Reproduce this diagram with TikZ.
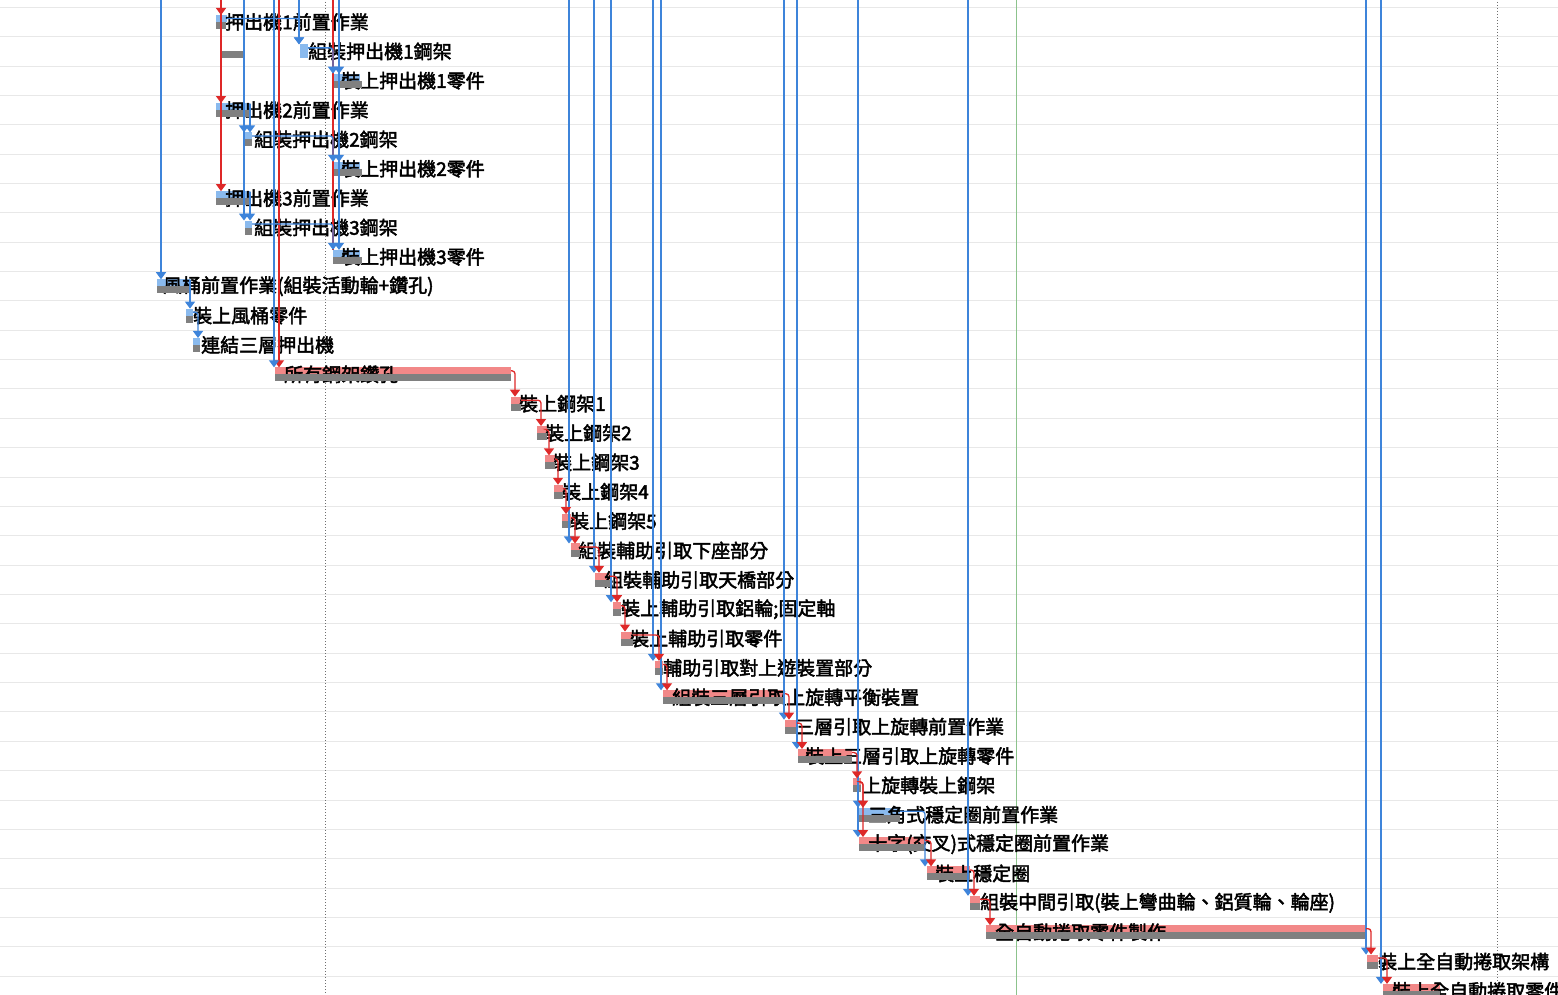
\documentclass[tikz,border=0pt]{standalone}
\usepackage{fontspec}
\newfontfamily\cjk{Noto Sans CJK TC}[FakeBold=2.4]
\usetikzlibrary{arrows.meta}
\definecolor{gridc}{RGB}{232,232,232}
\definecolor{critbar}{RGB}{242,136,136}
\definecolor{normbar}{RGB}{138,186,238}
\definecolor{basec}{RGB}{128,128,128}
\definecolor{linkred}{RGB}{222,40,40}
\definecolor{linkblue}{RGB}{62,132,218}
\definecolor{todayc}{RGB}{140,195,140}
\definecolor{dotc}{RGB}{110,110,110}
\begin{document}
\begin{tikzpicture}[x=1pt,y=-1pt,
  topbar/.style={draw=none,inner sep=0pt,outer sep=0pt,minimum height=7pt,anchor=south west},
  basebar/.style={fill=basec,draw=none,inner sep=0pt,outer sep=0pt,minimum height=7pt,anchor=north west},
  tasklabel/.style={anchor=west,inner sep=0pt,font=\cjk\fontsize{19}{19}\selectfont},
  tip/.style={-{Triangle[width=10pt,length=7pt]}},
  redlink/.style={draw=linkred,line width=1.3pt,tip,rounded corners=3pt},
  bluelink/.style={draw=linkblue,line width=1.3pt,tip,rounded corners=3pt},
  redline/.style={draw=linkred,line width=1.3pt},
  gridline/.style={draw=gridc,line width=1pt},
]
\fill[white] (0,0) rectangle (1558,995);
\useasboundingbox (0,0) rectangle (1558,995);
\clip (0,0) rectangle (1558,995);

% row separators
\foreach \k in {0,...,33} \draw[gridline] (0,7.3+29.36*\k) -- (1558,7.3+29.36*\k);

% status and date markers
\coordinate (top) at (0,-4);
\draw[dotc,dotted,line width=1pt] (325,-4) -- (325,1000);
\draw[dotc,dotted,line width=1pt] (1497,-4) -- (1497,1000);
\draw[todayc,line width=1pt] (1016,-4) -- (1016,1000);

% task bars: row / start / end / baseline start / baseline end / colour / label x / label
\foreach \r/\xs/\xe/\gs/\ge/\col/\tx/\txt in {
  0/216/227/216/226/normbar/225/{押出機1前置作業},
  1/300/308/222/244/normbar/308/{組裝押出機1鋼架},
  2/333/360/333/362/normbar/341/{裝上押出機1零件},
  3/216/250/216/250/normbar/225/{押出機2前置作業},
  4/245/252/245/252/normbar/254/{組裝押出機2鋼架},
  5/333/360/333/362/normbar/341/{裝上押出機2零件},
  6/216/250/216/250/normbar/225/{押出機3前置作業},
  7/245/252/245/252/normbar/254/{組裝押出機3鋼架},
  8/333/360/333/362/normbar/341/{裝上押出機3零件},
  9/157/190/157/190/normbar/163/{風桶前置作業(組裝活動輪+鑽孔)},
  10/186/193/186/193/normbar/193/{裝上風桶零件},
  11/193/200/193/200/normbar/201/{連結三層押出機},
  12/275/511/275/511/critbar/284/{所有鋼架鑽孔},
  13/511/521/511/521/critbar/519/{裝上鋼架1},
  14/537/547/537/547/critbar/545/{裝上鋼架2},
  15/545/555/545/555/critbar/553/{裝上鋼架3},
  16/554/563/554/563/critbar/562/{裝上鋼架4},
  17/562/571/562/571/critbar/570/{裝上鋼架5},
  18/571/580/571/580/critbar/578/{組裝輔助引取下座部分},
  19/595/610/595/610/critbar/604/{組裝輔助引取天橋部分},
  20/613/621/613/621/critbar/621/{裝上輔助引取鋁輪;固定軸},
  21/621/633/621/633/critbar/630/{裝上輔助引取零件},
  22/655/663/655/663/critbar/663/{輔助引取對上遊裝置部分},
  23/663/785/663/785/critbar/672/{組裝三層引取上旋轉平衡裝置},
  24/785/797/785/797/critbar/795/{三層引取上旋轉前置作業},
  25/798/852/798/852/critbar/805/{裝上三層引取上旋轉零件},
  26/853/861/853/861/critbar/862/{上旋轉裝上鋼架},
  27/859/900/859/900/normbar/868/{三角式穩定圈前置作業},
  28/859/925/859/925/critbar/868/{十字(交叉)式穩定圈前置作業},
  29/927/970/927/970/critbar/935/{裝上穩定圈},
  30/970/980/970/980/critbar/980/{組裝中間引取(裝上彎曲輪、鋁質輪、輪座)},
  31/986/1366/986/1366/critbar/995/{全自動捲取零件製作},
  32/1367/1378/1367/1378/critbar/1378/{裝上全自動捲取架構},
  33/1383/1440/1383/1440/critbar/1392/{裝上全自動捲取零件}%
}{
  \pgfmathsetmacro\yc{22+29.36*\r}
  \pgfmathsetmacro\w{\xe-\xs}
  \pgfmathsetmacro\gw{\ge-\gs}
  \node[topbar,fill=\col,minimum width=\w pt] (t\r) at (\xs,\yc) {};
  \node[tasklabel] (n\r) at (\tx,\yc) {\txt};
  \node[basebar,minimum width=\gw pt] (g\r) at (\gs,\yc) {};
}
% lower half of the short bar in row 1
\node[basebar,fill=normbar,minimum width=8pt] (t1b) at (t1.south west) {};

% entry points of links coming from tasks above
\foreach \r/\dx/\nm in {0/5/ra, 3/5/rb, 6/5/rc, 12/4/rd}
  \coordinate (\nm) at ([xshift=\dx pt]t\r.north west);
\foreach \r/\dx/\nm in {9/4/ba, 4/-1/bb, 7/-1/bc, 12/-1/bd, 1/-1/be,
  2/6/bf, 5/6/bg, 8/6/bh,
  18/-2/bi, 19/-1/bj, 20/-2/bk, 22/-2/bl, 23/-2/bm, 24/-1/bn, 25/-1/bo,
  27/-1/bp, 28/-1/bq, 30/-2/br, 32/-1/bs, 33/-2/bt}
  \coordinate (\nm) at ([xshift=\dx pt]t\r.north west);
\coordinate (rz) at (t8.north west);

% long links from above
\draw[redline] (rz |- top) -- (rz);
\foreach \nm in {ra,rb,rc,rd} \draw[redlink] (\nm |- top) -- (\nm);
\foreach \nm in {ba,bb,bc,bd,be,bf,bg,bh,bi,bj,bk,bl,bm,bn,bo,bp,bq,br,bs,bt}
  \draw[bluelink] (\nm |- top) -- (\nm);

% links between neighbouring tasks
\foreach \a/\b/\dx in {0/1/-1, 1/2/0, 3/4/5, 4/5/0, 6/7/5, 7/8/0, 9/10/4, 10/11/5, 27/29/-2}
  \draw[bluelink] (t\a.east) -| ([xshift=\dx pt]t\b.north west);
\foreach \a/\b in {12/13, 13/14, 14/15, 15/16, 16/17, 17/18, 18/19, 19/20, 20/21,
  21/22, 22/23, 23/24, 24/25, 25/26, 26/27, 26/28, 28/29, 29/30, 30/31, 31/32, 32/33}
  \draw[redlink] (t\a.east) -| ([xshift=4pt]t\b.north west);
\end{tikzpicture}
\end{document}
